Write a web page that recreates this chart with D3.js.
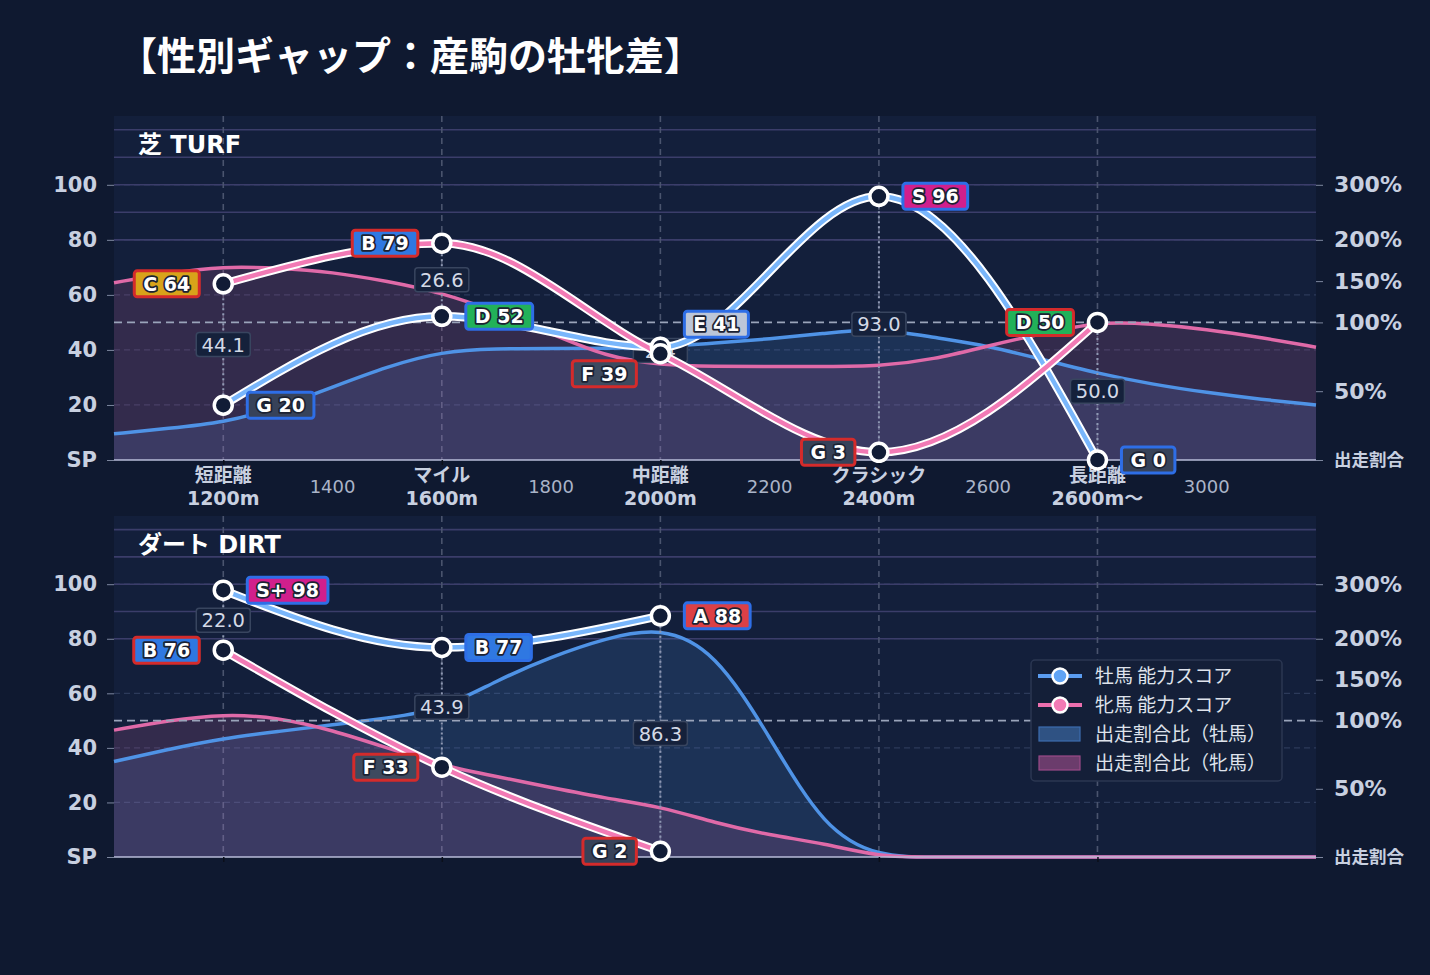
<!DOCTYPE html>
<html>
<head>
<meta charset="utf-8">
<script src="https://cdn.jsdelivr.net/npm/d3@7"></script>
<style>
  body { margin: 0; background: #0f1930; }
  text { font-family: "DejaVu Sans", "Noto Sans CJK JP", sans-serif; }
</style>
</head>
<body>
<script>
// DATA
const categories = [1200, 1600, 2000, 2400, 2800];
const categoryNames = ["短距離", "マイル", "中距離", "クラシック", "長距離"];
const categoryDist = ["1200m", "1600m", "2000m", "2400m", "2600m〜"];
const minorTicks = [1400, 1800, 2200, 2600, 3000];

const turfMaleScore = [19.9, 52.2, 41.0, 95.8, 0.0];
const turfMaleGrade = ["G", "D", "E", "S", "G"];
const turfFemaleScore = [64.0, 78.8, 38.6, 2.8, 50.0];
const turfFemaleGrade = ["C", "B", "F", "G", "D"];

const dirtMaleScore = [97.8, 76.8, 88.4];
const dirtMaleGrade = ["S+", "B", "A"];
const dirtFemaleScore = [75.8, 32.9, 2.1];
const dirtFemaleGrade = ["B", "F", "G"];

// share ratio (%), every 100m from 1000 to 3200
const shareDist = [1000, 1100, 1200, 1300, 1400, 1500, 1600, 1700, 1800, 1900, 2000, 2100,
  2200, 2300, 2400, 2500, 2600, 2700, 2800, 2900, 3000, 3100, 3200];
const turfMaleShare = [19, 23, 27, 38, 53, 68, 79, 81, 81, 81, 82, 85,
  88, 92, 96, 89, 83, 73, 63, 55, 49, 44, 40];
const turfFemaleShare = [148, 160, 168, 166, 161, 150, 136, 113, 92, 75, 69, 68,
  68, 68, 68, 73, 83, 92, 101, 99, 95, 89, 82];
const dirtMaleShare = [70, 79, 87, 92, 97, 103, 113, 149, 178, 201, 222, 186,
  88, 20, 0, 0, 0, 0, 0, 0, 0, 0, 0];
const dirtFemaleShare = [93, 100, 108, 104, 93, 80, 67, 59, 51, 43, 37, 25,
  16, 10, 0, 0, 0, 0, 0, 0, 0, 0, 0];

const scoreTicks = [0, 20, 40, 60, 80, 100];
const ratioTicks = [0, 50, 100, 150, 200, 300];
const ratioGrid = [200, 250, 300, 350, 400];

const gradeColor = {
  "S+": "#d11f8c", "S": "#d11f8c", "A": "#dc4046", "B": "#2f78e2",
  "C": "#d8a31a", "D": "#22b159", "E": "#bcc6d8", "F": "#3e4a5f", "G": "#374259"
};

// DIMENSIONS
const width = 1430, height = 975;
const left = 114, right = 1316;

const svg = d3.select("body").append("svg")
  .attr("width", width)
  .attr("height", height);

svg.append("rect").attr("width", width).attr("height", height).attr("fill", "#0f1930");

svg.append("text")
  .attr("x", 118).attr("y", 70)
  .attr("fill", "#ffffff")
  .style("font-family", "'Noto Sans CJK JP', sans-serif")
  .style("font-size", "39px").style("font-weight", "bold")
  .text("【性別ギャップ：産駒の牡牝差】");

const x = d3.scaleLinear().domain([1000, 3200]).range([left, right]);

function drawPanel(cfg) {
  const g = svg.append("g");
  const y = d3.scaleLinear().domain([0, 125]).range([cfg.bottom, cfg.top]);
  // piecewise ratio scale for the right axis
  const yr = d3.scaleLinear().domain([0, 100, 200, 400]).range([y(0), y(50), y(80), y(120)]);

  g.append("rect")
    .attr("x", left).attr("y", cfg.top)
    .attr("width", right - left).attr("height", cfg.bottom - cfg.top)
    .attr("fill", "#131f3b");

  // gridlines
  g.selectAll(".sgrid").data(scoreTicks.slice(1)).join("line")
    .attr("x1", left).attr("x2", right)
    .attr("y1", d => y(d)).attr("y2", d => y(d))
    .attr("stroke", "#2c3a5a").attr("stroke-width", 1.2).attr("stroke-dasharray", "6,4");
  g.selectAll(".rgrid").data(ratioGrid).join("line")
    .attr("x1", left).attr("x2", right)
    .attr("y1", d => yr(d)).attr("y2", d => yr(d))
    .attr("stroke", "#3b3d6a").attr("stroke-width", 1.6);
  g.selectAll(".vgrid").data(categories).join("line")
    .attr("x1", d => x(d)).attr("x2", d => x(d))
    .attr("y1", cfg.top).attr("y2", cfg.bottom)
    .attr("stroke", "#4a546e").attr("stroke-width", 1.6).attr("stroke-dasharray", "6,5");

  // share ratio areas (smoothed)
  const shareSeries = [
    { values: cfg.maleShare, color: "#4f93e6" },
    { values: cfg.femaleShare, color: "#e06aa8" }
  ];
  const area = d3.area()
    .x((d, i) => x(shareDist[i]))
    .y0(y(0))
    .y1(d => yr(d))
    .curve(d3.curveBasis);
  const areaLine = d3.line()
    .x((d, i) => x(shareDist[i]))
    .y(d => yr(d))
    .curve(d3.curveBasis);
  shareSeries.forEach(s => {
    g.append("path").attr("d", area(s.values))
      .attr("fill", s.color).attr("fill-opacity", 0.16);
  });
  shareSeries.forEach(s => {
    g.append("path").attr("d", areaLine(s.values))
      .attr("fill", "none").attr("stroke", s.color).attr("stroke-width", 3.5);
  });

  // 100% reference
  g.append("line")
    .attr("x1", left).attr("x2", right)
    .attr("y1", yr(100)).attr("y2", yr(100))
    .attr("stroke", "#9aa4ba").attr("stroke-width", 1.6).attr("stroke-dasharray", "8,5");

  // baseline
  g.append("line")
    .attr("x1", left).attr("x2", right)
    .attr("y1", y(0)).attr("y2", y(0))
    .attr("stroke", "#b9bcd8").attr("stroke-width", 1.5);

  // axes
  const leftAxis = g.append("g")
    .attr("transform", `translate(${left},0)`)
    .call(d3.axisLeft(y).tickValues(scoreTicks).tickSize(7).tickPadding(10)
      .tickFormat(d => d === 0 ? "SP" : d));
  leftAxis.select(".domain").remove();
  leftAxis.selectAll("line").attr("stroke", "#7d879f");
  leftAxis.selectAll("text").attr("fill", "#c8d0e0")
    .style("font-size", "21px").style("font-weight", "bold");

  const rightAxis = g.append("g")
    .attr("transform", `translate(${right},0)`)
    .call(d3.axisRight(yr).tickValues(ratioTicks).tickSize(7).tickPadding(11)
      .tickFormat(d => d === 0 ? "出走割合" : d + "%"));
  rightAxis.select(".domain").remove();
  rightAxis.selectAll("line").attr("stroke", "#7d879f");
  rightAxis.selectAll("text").attr("fill", "#c8d0e0")
    .style("font-size", d => d === 0 ? "17.5px" : "22px").style("font-weight", "bold")
    .style("font-family", d => d === 0 ? "'Noto Sans CJK JP', sans-serif" : null);

  const bottomAxis = g.append("g")
    .attr("transform", `translate(0,${y(0)})`)
    .call(d3.axisBottom(x).tickValues(categories).tickSize(5).tickFormat(""));
  bottomAxis.select(".domain").remove();
  bottomAxis.selectAll("line").attr("stroke", "#0b0f1a").attr("stroke-width", 1.5);

  if (cfg.xLabels) {
    g.selectAll(".catname").data(categories).join("text")
      .attr("x", d => x(d)).attr("y", y(0) + 22)
      .attr("text-anchor", "middle").attr("fill", "#c8d0e0")
      .style("font-size", "19px").style("font-weight", "bold")
      .style("font-family", "'Noto Sans CJK JP', sans-serif")
      .text((d, i) => categoryNames[i]);
    g.selectAll(".catdist").data(categories).join("text")
      .attr("x", d => x(d)).attr("y", y(0) + 45)
      .attr("text-anchor", "middle").attr("fill", "#c8d0e0")
      .style("font-size", "19px").style("font-weight", "bold")
      .text((d, i) => categoryDist[i]);
    g.selectAll(".minor").data(minorTicks).join("text")
      .attr("x", d => x(d)).attr("y", y(0) + 33)
      .attr("text-anchor", "middle").attr("fill", "#aab4c8")
      .style("font-size", "18px")
      .text(d => d);
  }

  // panel title
  g.append("text")
    .attr("x", 138).attr("y", cfg.top + 37)
    .attr("fill", "#ffffff")
    .style("font-size", "24px").style("font-weight", "bold")
    .text(cfg.title);

  const n = cfg.maleScore.length;
  const pts = d3.range(n).map(i => ({
    d: categories[i],
    m: cfg.maleScore[i], f: cfg.femaleScore[i],
    mg: cfg.maleGrade[i], fg: cfg.femaleGrade[i]
  }));

  // gap connectors
  g.selectAll(".conn").data(pts).join("line")
    .attr("x1", p => x(p.d)).attr("x2", p => x(p.d))
    .attr("y1", p => y(p.m)).attr("y2", p => y(p.f))
    .attr("stroke", "#8e98b2").attr("stroke-width", 2).attr("stroke-dasharray", "2,3");

  // gap labels
  const gap = g.selectAll(".gap").data(pts).join("g")
    .attr("transform", p => `translate(${x(p.d)},${y((p.m + p.f) / 2)})`);
  gap.append("rect")
    .attr("x", -27).attr("y", -12).attr("width", 54).attr("height", 24).attr("rx", 3)
    .attr("fill", "#15213b").attr("stroke", "#38455f").attr("stroke-width", 1.5);
  gap.append("text")
    .attr("text-anchor", "middle").attr("dy", "0.36em")
    .attr("fill", "#d3d9e6").style("font-size", "19.5px")
    .text(p => d3.format(".1f")(Math.abs(p.m - p.f)));

  // ability lines
  const line = d3.line()
    .x(p => x(p.d))
    .curve(d3.curveMonotoneX);
  [["m", "#79b6fb"], ["f", "#f27ab5"]].forEach(([k, c]) => {
    line.y(p => y(p[k]));
    g.append("path").attr("d", line(pts))
      .attr("fill", "none").attr("stroke", "#ffffff").attr("stroke-width", 8.5);
    g.append("path").attr("d", line(pts))
      .attr("fill", "none").attr("stroke", c).attr("stroke-width", 4.5);
  });

  // points
  ["m", "f"].forEach(k => {
    g.selectAll(".pt" + k).data(pts).join("circle")
      .attr("cx", p => x(p.d)).attr("cy", p => y(p[k]))
      .attr("r", 9).attr("fill", "#111c36")
      .attr("stroke", "#ffffff").attr("stroke-width", 3.5);
  });

  // grade labels
  function gradeLabel(p, isMale) {
    const val = isMale ? p.m : p.f;
    const grade = isMale ? p.mg : p.fg;
    const close = Math.abs(p.m - p.f) < 8;
    const nudge = close ? (isMale ? -23 : 20) : 0;
    const lg = g.append("g")
      .attr("transform", `translate(${x(p.d)},${y(val) + nudge})`);
    const r = lg.append("rect");
    const t = lg.append("text")
      .attr("dy", "0.36em").attr("fill", "#ffffff")
      .attr("stroke", "#1b2233").attr("stroke-width", 3.5)
      .style("paint-order", "stroke").style("stroke-linejoin", "round")
      .style("font-size", "19px").style("font-weight", "bold")
      .text(grade + " " + d3.format(".0f")(val));
    const w = t.node().getComputedTextLength() + 18;
    const bx = isMale ? 24 : -24 - w;
    r.attr("x", bx).attr("y", -13).attr("width", w).attr("height", 26).attr("rx", 3)
      .attr("fill", gradeColor[grade])
      .attr("stroke", isMale ? "#2e6ee6" : "#d42b2b").attr("stroke-width", 3);
    t.attr("x", bx + w / 2).attr("text-anchor", "middle");
  }
  pts.forEach(p => { gradeLabel(p, true); gradeLabel(p, false); });

  return g;
}

drawPanel({
  title: "芝 TURF", top: 116, bottom: 460, xLabels: true,
  maleScore: turfMaleScore, maleGrade: turfMaleGrade,
  femaleScore: turfFemaleScore, femaleGrade: turfFemaleGrade,
  maleShare: turfMaleShare, femaleShare: turfFemaleShare
});

drawPanel({
  title: "ダート DIRT", top: 516, bottom: 857, xLabels: false,
  maleScore: dirtMaleScore, maleGrade: dirtMaleGrade,
  femaleScore: dirtFemaleScore, femaleGrade: dirtFemaleGrade,
  maleShare: dirtMaleShare, femaleShare: dirtFemaleShare
});

// LEGEND
const legendItems = [
  { label: "牡馬 能力スコア", type: "line", color: "#5b9cf0", marker: "#5fa3f5" },
  { label: "牝馬 能力スコア", type: "line", color: "#ec6fae", marker: "#f27ab5" },
  { label: "出走割合比（牡馬）", type: "rect", color: "#2f5283", border: "#3d6db0" },
  { label: "出走割合比（牝馬）", type: "rect", color: "#6b3c6c", border: "#9a4a88" }
];

const legend = svg.append("g").attr("transform", "translate(1031,660)");
legend.append("rect")
  .attr("width", 251).attr("height", 121).attr("rx", 4)
  .attr("fill", "#141f38").attr("stroke", "#2b3752").attr("stroke-width", 1.5);

const li = legend.selectAll(".li").data(legendItems).join("g")
  .attr("transform", (d, i) => `translate(0,${16 + i * 29})`);
li.filter(d => d.type === "line").append("line")
  .attr("x1", 7).attr("x2", 51).attr("stroke", d => d.color).attr("stroke-width", 4);
li.filter(d => d.type === "line").append("circle")
  .attr("cx", 29).attr("r", 7.5).attr("fill", d => d.marker)
  .attr("stroke", "#ffffff").attr("stroke-width", 2.5);
li.filter(d => d.type === "rect").append("rect")
  .attr("x", 8).attr("y", -7).attr("width", 41).attr("height", 14)
  .attr("fill", d => d.color).attr("stroke", d => d.border).attr("stroke-width", 1.2);
li.append("text")
  .attr("x", 64).attr("dy", "0.36em")
  .attr("fill", "#dfe3ec")
  .style("font-family", "'Noto Sans CJK JP', sans-serif")
  .style("font-size", "19px")
  .text(d => d.label);
</script>
</body>
</html>
